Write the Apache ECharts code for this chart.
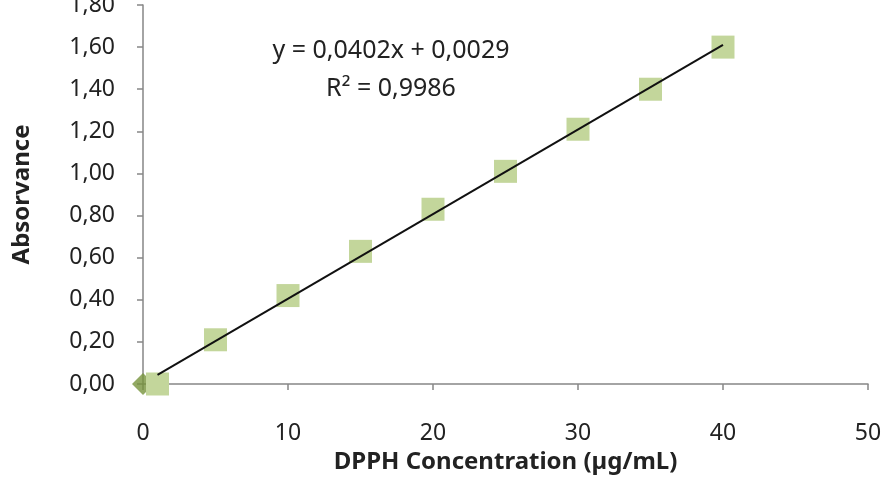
<!DOCTYPE html>
<html>
<head>
<meta charset="utf-8">
<script src="https://cdn.jsdelivr.net/npm/echarts@6/dist/echarts.min.js"></script>
<style>
  html, body { margin: 0; padding: 0; background: #fff; }
  #chart { width: 881px; height: 489px; }
</style>
</head>
<body>
<div id="chart"></div>
<script>
// concentrations (µg/mL) and absorbance
const concX = [1, 5, 10, 15, 20, 25, 30, 35, 40]
const absY = [0.00, 0.21, 0.42, 0.63, 0.83, 1.01, 1.21, 1.40, 1.60]
// blank point drawn as a diamond on the y axis
const blankPoint = [0, 0.00]
// linear trendline y = 0,0402x + 0,0029, between first and last x
const trendX = [1, 40]
const trendY = [0.0431, 1.6109]
const eqLines = ['y = 0,0402x + 0,0029', 'R² = 0,9986']

const font = '"Noto Sans", "Open Sans", sans-serif'
const axisGrey = '#868686'

const chart = echarts.init(document.getElementById('chart'))
chart.setOption({
  backgroundColor: '#fff',
  animation: false,
  textStyle: { fontFamily: font },
  grid: { left: 143, right: 13, top: 5, bottom: 105, containLabel: false, outerBoundsMode: 'none' },
  xAxis: {
    type: 'value',
    min: 0,
    max: 50,
    interval: 10,
    name: 'DPPH Concentration (µg/mL)',
    nameLocation: 'middle',
    nameGap: 60,
    nameTextStyle: { fontSize: 24, fontWeight: 'bold', color: '#222', fontFamily: font },
    axisLine: { lineStyle: { color: axisGrey, width: 1.5 } },
    axisTick: { show: true, length: 6, lineStyle: { color: axisGrey, width: 1.5 } },
    axisLabel: { fontSize: 23, color: '#222', margin: 38, fontFamily: font },
    splitLine: { show: false }
  },
  yAxis: {
    type: 'value',
    min: 0,
    max: 1.8,
    interval: 0.2,
    name: 'Absorvance',
    nameLocation: 'middle',
    nameGap: 109,
    nameRotate: 90,
    nameTextStyle: { fontSize: 24, fontWeight: 'bold', color: '#222', fontFamily: font },
    axisLine: { show: true, lineStyle: { color: axisGrey, width: 1.5 } },
    axisTick: { show: true, length: 6, lineStyle: { color: axisGrey, width: 1.5 } },
    axisLabel: {
      fontSize: 23,
      color: '#222',
      margin: 28,
      fontFamily: font,
      formatter: v => v.toFixed(2).replace('.', ',')
    },
    splitLine: { show: false }
  },
  series: [{
    name: 'blank',
    type: 'scatter',
    symbol: 'diamond',
    symbolSize: 22,
    itemStyle: { color: '#77933C' },
    data: [blankPoint],
    z: 2
  }, {
    name: 'DPPH',
    type: 'scatter',
    symbol: 'rect',
    symbolSize: 23,
    itemStyle: { color: '#C3D69B', opacity: 1 },
    data: concX.map((x, i) => [x, absY[i]]),
    z: 3
  }, {
    name: 'trend',
    type: 'line',
    showSymbol: false,
    symbol: 'none',
    lineStyle: { color: '#111', width: 2 },
    data: trendX.map((x, i) => [x, trendY[i]]),
    z: 4
  }],
  graphic: [{
    type: 'text',
    style: {
      text: eqLines.join('\n'),
      x: 391,
      y: 32,
      align: 'center',
      fontSize: 25,
      lineHeight: 38,
      fill: '#222',
      fontFamily: font
    }
  }]
})
</script>
</body>
</html>
